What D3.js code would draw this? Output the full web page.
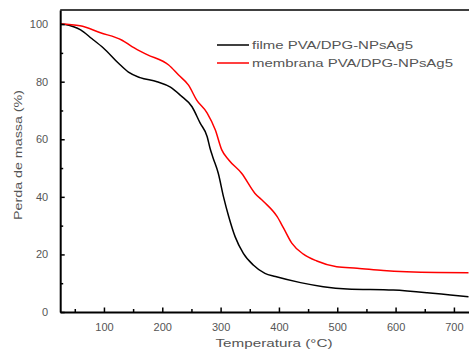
<!DOCTYPE html>
<html><head><meta charset="utf-8">
<script src="https://cdn.jsdelivr.net/npm/d3@7/dist/d3.min.js"></script>
<style>body{margin:0;background:#fff}svg{display:block}text{font-family:"Liberation Sans",Arial,sans-serif}</style>
</head><body><svg id="c" width="469" height="358"></svg>
<script>
// Data
const filmeTemp = [25,40,48,60,79,99,125,142,162,191,214,231,251,265,277,282,287,296,305,314,325,339,356,376,394,437,476,517,596,654,694,725];
const filmeMass = [100,99.6,99.1,98,95,91.7,86.4,83.3,81.4,80,78.1,75.3,71.3,65.6,60.9,56.8,53.6,48.2,40,33.1,26.1,20.4,16.3,13.4,12.3,10.2,8.8,8.0,7.6,6.7,5.9,5.3];
const membTemp = [25,59,94,131,148,174,211,228,245,259,277,291,302,314,336,359,374,397,408,422,442,465,499,534,579,671,725];
const membMass = [100,99.4,97.0,94.4,92.2,89.4,85.8,82.3,78.8,73.6,69.1,63.2,56.3,52.8,48.2,41.2,38.3,33.1,29.1,23.9,20.1,17.7,15.7,15.2,14.4,13.7,13.6];
const seriesNames = ["filme PVA/DPG-NPsAg5","membrana PVA/DPG-NPsAg5"];
const seriesColors = ["#000000","#ff0000"];
const xTicks = [100,200,300,400,500,600,700];
const xMinor = [50,150,250,350,450,550,650];
const yTicks = [0,20,40,60,80,100];
const yMinor = [10,30,50,70,90];
const xTitle = "Temperatura (°C)";
const yTitle = "Perda de massa (%)";

const svg = d3.select("#c");
const L=60.2, R=472, T=10, B=312;
const x = d3.scaleLinear().domain([25,731]).range([L,R]);
const y = d3.scaleLinear().domain([0,104.9]).range([B,T]);

const series = [
  filmeTemp.map((t,i)=>[t,filmeMass[i]]),
  membTemp.map((t,i)=>[t,membMass[i]])
];
const line = d3.line().x(d=>x(d[0])).y(d=>y(d[1])).curve(d3.curveMonotoneX);
series.forEach((s,i)=>{
  svg.append("path").attr("d",line(s)).attr("fill","none")
    .attr("stroke",seriesColors[i]).attr("stroke-width",1.5);
});

// frame
svg.append("line").attr("x1",L).attr("x2",R).attr("y1",T).attr("y2",T).attr("stroke","#000").attr("stroke-width",1.5);
svg.append("line").attr("x1",R).attr("x2",R).attr("y1",T).attr("y2",B).attr("stroke","#000").attr("stroke-width",1.5);

// x axis
const xa = svg.append("g").attr("transform",`translate(0,${B})`)
  .call(d3.axisBottom(x).tickValues(xTicks).tickSizeInner(-4.5).tickSizeOuter(0).tickPadding(11));
xa.select(".domain").attr("stroke","#000").attr("stroke-width",2);
xa.selectAll(".tick line").attr("stroke-width",1.5);
xa.selectAll(".tick text").attr("font-size",11).attr("fill","#555").attr("font-family","Liberation Sans, Arial, sans-serif");
svg.append("g").attr("transform",`translate(0,${B})`)
  .call(d3.axisBottom(x).tickValues(xMinor).tickSizeInner(-3).tickSizeOuter(0).tickFormat(""))
  .call(g=>g.select(".domain").remove())
  .selectAll(".tick line").attr("stroke-width",1.5);

// y axis
const ya = svg.append("g").attr("transform",`translate(${L},0)`)
  .call(d3.axisLeft(y).tickValues(yTicks).tickSizeInner(-4.5).tickSizeOuter(0).tickPadding(12));
ya.select(".domain").attr("stroke","#000").attr("stroke-width",2);
ya.selectAll(".tick line").attr("stroke-width",1.5);
ya.selectAll(".tick text").attr("font-size",11).attr("fill","#555").attr("font-family","Liberation Sans, Arial, sans-serif");
svg.append("g").attr("transform",`translate(${L},0)`)
  .call(d3.axisLeft(y).tickValues(yMinor).tickSizeInner(-3).tickSizeOuter(0).tickFormat(""))
  .call(g=>g.select(".domain").remove())
  .selectAll(".tick line").attr("stroke-width",1.5);

// titles
svg.append("text").attr("x",274).attr("y",347).attr("text-anchor","middle")
  .attr("font-size",11).attr("fill","#555").attr("textLength",117).attr("lengthAdjust","spacingAndGlyphs").text(xTitle);
svg.append("text").attr("transform","translate(22,155) rotate(-90)").attr("text-anchor","middle")
  .attr("font-size",11).attr("fill","#555").attr("textLength",130).attr("lengthAdjust","spacingAndGlyphs").text(yTitle);

// legend
const legY=[45,63], legW=[161,201];
seriesNames.forEach((n,i)=>{
  svg.append("line").attr("x1",217).attr("x2",249).attr("y1",legY[i]).attr("y2",legY[i])
    .attr("stroke",seriesColors[i]).attr("stroke-width",1.5);
  svg.append("text").attr("x",252).attr("y",legY[i]+4).attr("font-size",10.5).attr("fill","#555")
    .attr("textLength",legW[i]).attr("lengthAdjust","spacingAndGlyphs").text(n);
});
</script></body></html>
